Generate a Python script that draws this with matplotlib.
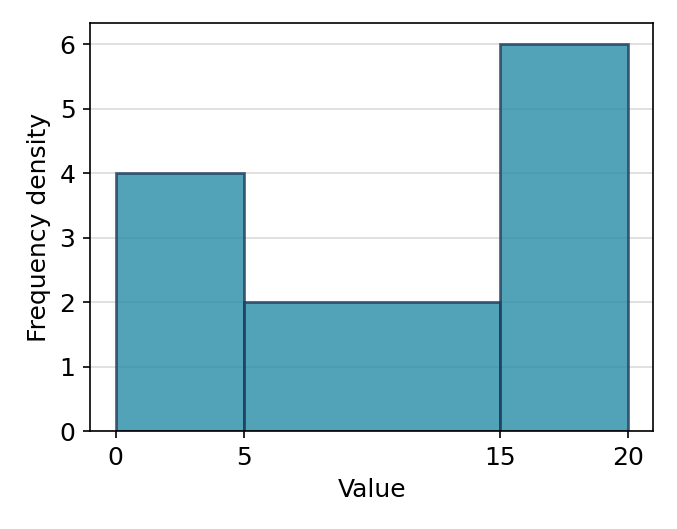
import numpy as np
import matplotlib.pyplot as plt

# Histogram with unequal bin widths, plotted as frequency density
bin_edges = [0, 5, 15, 20]
densities = [4, 2, 6]
tick_values = [0, 5, 15, 20]

widths = np.diff(bin_edges)

plt.rcParams['font.size'] = 12

fig, ax = plt.subplots(figsize=(677 / 150, 529 / 150), dpi=150)
ax.bar(bin_edges[:-1], densities, width=widths, align='edge',
       color='#278CA6', alpha=0.8, edgecolor='#1B3A5C', linewidth=1.3)

ax.set_xticks(tick_values)
ax.set_xlabel('Value')
ax.set_ylabel('Frequency density')
ax.set_ylim(0, 6.33)
ax.yaxis.grid(True, color='#cccccc', alpha=0.7, linewidth=0.8)
ax.set_axisbelow(True)

fig.subplots_adjust(left=0.133, right=0.965, top=0.957, bottom=0.185)
fig.savefig('out.png', dpi=150)
